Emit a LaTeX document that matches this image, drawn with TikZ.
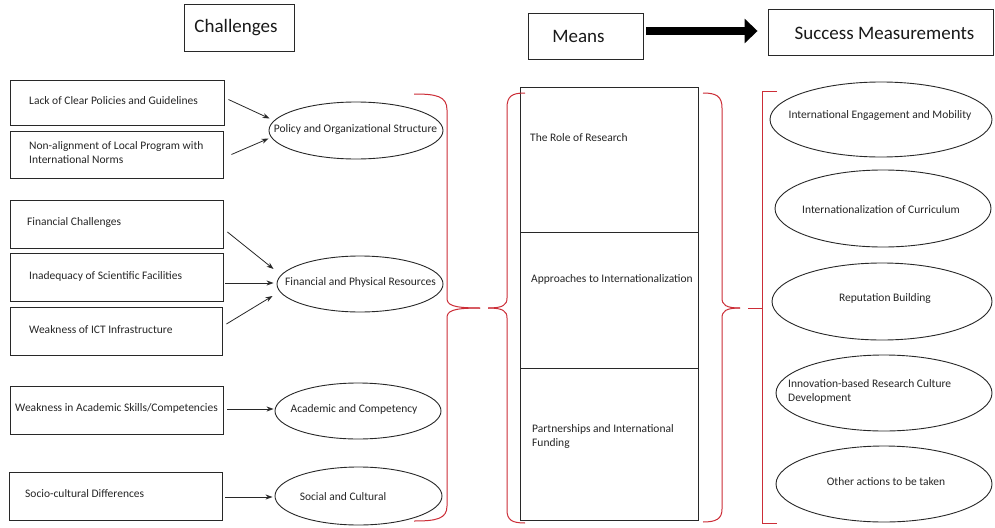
\documentclass[tikz,border=0pt]{standalone}
\usepackage{fontspec}
\setmainfont{Carlito}
\usetikzlibrary{shapes.geometric,arrows.meta}
\definecolor{bracered}{RGB}{204,45,55}
\definecolor{lineclr}{RGB}{40,40,40}
\begin{document}
\begin{tikzpicture}[x=1pt,y=-1pt,
  box/.style={draw=lineclr,line width=0.9pt,rectangle,inner sep=0pt},
  oval/.style={draw=lineclr,line width=0.9pt,ellipse,inner sep=0pt},
  txt/.style={inner sep=0pt,font=\fontsize{11.5}{14}\selectfont,text=black!85},
  head/.style={inner sep=0pt,font=\fontsize{19}{22}\selectfont,text=black!90},
  arr/.style={-{Stealth[length=7pt,width=5pt]},line width=0.8pt,draw=lineclr},
  brace/.style={draw=bracered,line width=1pt}]
\useasboundingbox (0,0) rectangle (995,527);
\fill[white] (0,0) rectangle (995,527);

% headers
\node[box,minimum width=110pt,minimum height=47pt] (hchal) at (239,27.5) {};
\node[head] (hchalt) at (236,28) {Challenges};
\node[box,minimum width=115pt,minimum height=46pt] (hmeans) at (585.5,36) {};
\node[head] (hmeanst) at (578.5,36) {Means};
\node[box,minimum width=225pt,minimum height=46pt] (hsucc) at (880.5,32) {};
\node[head] (hsucct) at (884.5,33) {Success Measurements};
\draw[line width=8pt,-{Triangle[length=13pt,width=24pt]}] ([xshift=3pt,yshift=5pt]hmeans.east) -- ([xshift=-10pt,yshift=1pt]hsucc.west);

% left boxes
\node[box,minimum width=214pt,minimum height=45pt] (b1) at (117,102.5) {};
\node[txt,anchor=west] (b1t) at (29,101) {Lack of Clear Policies and Guidelines};
\node[box,minimum width=213pt,minimum height=47pt] (b2) at (116.5,154.5) {};
\node[txt,anchor=west,align=left] (b2t) at (29,153) {Non-alignment of Local Program with\\International Norms};
\node[box,minimum width=213pt,minimum height=48pt] (b3) at (116.5,224) {};
\node[txt,anchor=west] (b3t) at (27,222) {Financial Challenges};
\node[box,minimum width=213pt,minimum height=48pt] (b4) at (116.5,277) {};
\node[txt,anchor=west] (b4t) at (29,276) {Inadequacy of Scientific Facilities};
\node[box,minimum width=212pt,minimum height=48pt] (b5) at (116,331) {};
\node[txt,anchor=west] (b5t) at (29,330) {Weakness of ICT Infrastructure};
\node[box,minimum width=213pt,minimum height=48pt] (b6) at (116.5,410) {};
\node[txt,anchor=west] (b6t) at (15,408) {Weakness in Academic Skills/Competencies};
\node[box,minimum width=213pt,minimum height=48pt] (b7) at (115.5,496) {};
\node[txt,anchor=west] (b7t) at (25,494) {Socio-cultural Differences};

% left ellipses
\node[oval,minimum width=174pt,minimum height=57pt] (e1) at (356,130.5) {};
\node[txt] (e1t) at (355.5,129) {Policy and Organizational Structure};
\node[oval,minimum width=166pt,minimum height=56pt] (e2) at (360,284) {};
\node[txt] (e2t) at (360.5,282) {Financial and Physical Resources};
\node[oval,minimum width=166pt,minimum height=56pt] (e3) at (358,411) {};
\node[txt] (e3t) at (354,409) {Academic and Competency};
\node[oval,minimum width=167pt,minimum height=58pt] (e4) at (358.5,496) {};
\node[txt] (e4t) at (343,497) {Social and Cultural};

% arrows
\draw[arr] ([xshift=4pt,yshift=3pt]b1.east) -- ([xshift=1pt,yshift=12pt]e1.west);
\draw[arr] ([xshift=8pt]b2.east) -- ([xshift=0pt,yshift=-8pt]e1.west);
\draw[arr] ([xshift=4pt,yshift=-8pt]b3.east) -- ([xshift=-3pt,yshift=15pt]e2.west);
\draw[arr] ([xshift=2pt,yshift=-6pt]b4.east) -- ([xshift=-3pt,yshift=1pt]e2.west);
\draw[arr] ([xshift=4pt,yshift=7pt]b5.east) -- ([xshift=-4pt,yshift=-12pt]e2.west);
\draw[arr] ([xshift=4pt,yshift=1pt]b6.east) -- ([xshift=-1pt,yshift=2pt]e3.west);
\draw[arr] ([xshift=3pt,yshift=-1pt]b7.east) -- ([xshift=-2pt,yshift=-1pt]e4.west);

% means column
\node[box,minimum width=178pt,minimum height=145pt] (m1) at (609,159.5) {};
\node[txt,anchor=west] (m1t) at (530,138) {The Role of Research};
\node[box,minimum width=178pt,minimum height=136pt] (m2) at (609,300) {};
\node[txt,anchor=west] (m2t) at (531,279) {Approaches to Internationalization};
\node[box,minimum width=178pt,minimum height=152pt] (m3) at (609,444) {};
\node[txt,anchor=west,align=left] (m3t) at (532,436) {Partnerships and International\\Funding};

% success ellipses
\node[oval,minimum width=222pt,minimum height=75pt] (s1) at (881,119.5) {};
\node[txt] (s1t) at (880,115) {International Engagement and Mobility};
\node[oval,minimum width=216pt,minimum height=77pt] (s2) at (883,208.5) {};
\node[txt] (s2t) at (881,210) {Internationalization of Curriculum};
\node[oval,minimum width=220pt,minimum height=77pt] (s3) at (882,301.5) {};
\node[txt] (s3t) at (885,298) {Reputation Building};
\node[oval,minimum width=216pt,minimum height=76pt] (s4) at (884,393) {};
\node[txt,anchor=west,align=left] (s4t) at (788,391.5) {Innovation-based Research Culture\\Development};
\node[oval,minimum width=216pt,minimum height=76pt] (s5) at (884,484) {};
\node[txt] (s5t) at (886,482) {Other actions to be taken};

% braces
\draw[brace] (414,94) .. controls (436,94) and (447,96) .. (447,110) -- (447,298) .. controls (447,305) and (452,308) .. (480,308);
\draw[brace] (480,308) .. controls (452,308) and (447,311) .. (447,318) -- (447,506) .. controls (447,519) and (436,521) .. (414,521);
\draw[brace] (525,93) .. controls (512,93) and (507,96) .. (507,108) -- (507,298) .. controls (507,305) and (503,308) .. (488,308);
\draw[brace] (488,308) .. controls (503,308) and (507,311) .. (507,318) -- (507,510) .. controls (507,520) and (512,523) .. (525,523);
\draw[brace] (703,93) .. controls (716,93) and (722,96) .. (722,108) -- (722,298) .. controls (722,305) and (726,308) .. (740,308);
\draw[brace] (740,308) .. controls (726,308) and (722,311) .. (722,318) -- (722,509) .. controls (722,519) and (716,522) .. (703,522);
\draw[brace] (777,91) -- (762,91) -- (762,523) -- (777,523);
\draw[brace] (762,308) -- (748,308);
\end{tikzpicture}
\end{document}
